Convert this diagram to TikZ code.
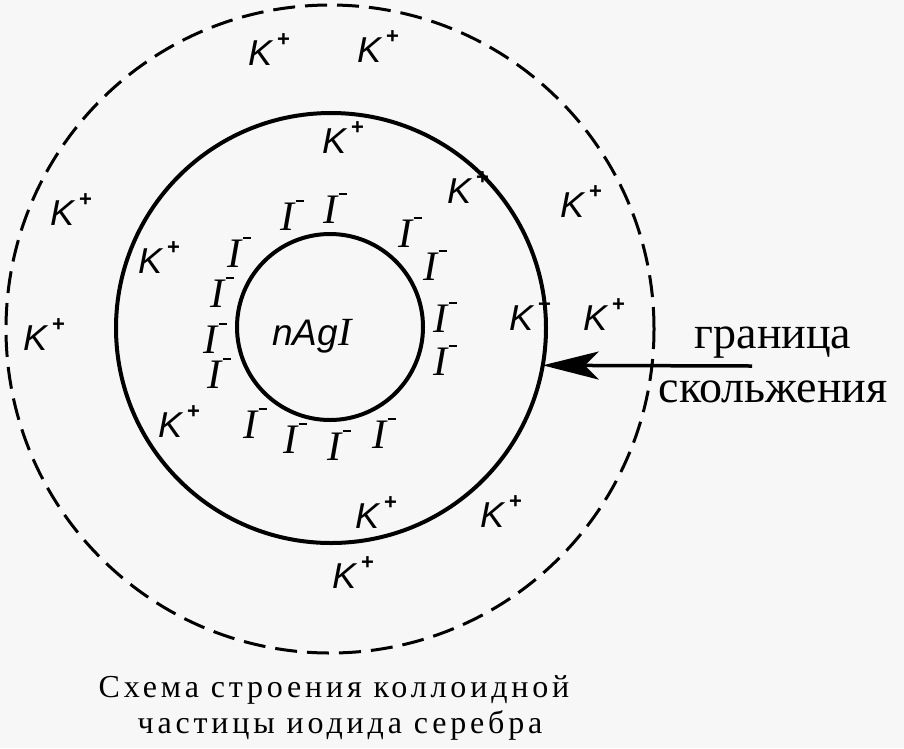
\documentclass[tikz,border=0pt]{standalone}
\usepackage{fontspec}
\setmainfont{Liberation Serif}
\newfontfamily\kfont{Liberation Sans}
\newfontfamily\capfont[LetterSpace=12]{Liberation Serif}
\usetikzlibrary{arrows.meta}
\definecolor{bg}{RGB}{248,247,248}
\newcommand\Kion{{\kfont\itshape\fontsize{36pt}{36pt}\selectfont K}\kern5pt\raisebox{19pt}{\kfont\bfseries\fontsize{22pt}{22pt}\selectfont +}}
\newcommand\Iion{{\fontsize{42pt}{42pt}\selectfont\itshape I}\kern1.5pt\rule[28pt]{8pt}{2.4pt}}
\begin{document}
\begin{tikzpicture}[x=1pt,y=-1pt,
  ring/.style={circle, draw, inner sep=0pt, outer sep=0pt, line width=4pt},
  shear/.style={circle, draw, inner sep=0pt, outer sep=0pt, line width=3pt, dash pattern=on 22pt off 10pt},
  ion/.style={inner sep=0pt, anchor=base west},
  note/.style={inner sep=0pt, anchor=base, font=\fontsize{46pt}{54pt}\selectfont},
  caption/.style={inner sep=0pt, anchor=base, font=\capfont\fontsize{32pt}{36pt}\selectfont},
  ptr/.style={line width=3.5pt, -{Stealth[length=56pt,width=28pt,inset=14pt]}}]
\fill[bg] (0,0) rectangle (904,748);
\useasboundingbox (0,0) rectangle (904,748);
% layers
\node[shear, minimum size=648pt] (diffuse) at (330,329) {};
\node[ring, minimum size=430pt] (slip) at (331,328) {};
\node[ring, minimum size=186pt] (core) at (330,327) {};
\node[ion] (agi) at (272,345) {{\kfont\itshape\fontsize{37pt}{37pt}\selectfont nAg}{\fontsize{40pt}{40pt}\selectfont\itshape I}};
% K+ ions
\node[ion] (k1) at (248,65) {\Kion};
\node[ion] (k2) at (357,62) {\Kion};
\node[ion] (k3) at (322,153) {\Kion};
\node[ion] (k4) at (447,203) {\Kion};
\node[ion] (k5) at (560,217) {\Kion};
\node[ion] (k6) at (50,225) {\Kion};
\node[ion] (k7) at (138,273) {\Kion};
\node[ion] (k8) at (23,350) {\Kion};
\node[ion] (k9) at (509,330) {\Kion};
\node[ion] (k10) at (583,330) {\Kion};
\node[ion] (k11) at (158,437) {\Kion};
\node[ion] (k12) at (355,528) {\Kion};
\node[ion] (k13) at (480,527) {\Kion};
\node[ion] (k14) at (332,588) {\Kion};
% I- ions
\node[ion] (i1) at (280,230) {\Iion};
\node[ion] (i2) at (323,223) {\Iion};
\node[ion] (i3) at (398,247) {\Iion};
\node[ion] (i4) at (423,280) {\Iion};
\node[ion] (i5) at (227,267) {\Iion};
\node[ion] (i6) at (210,307) {\Iion};
\node[ion] (i7) at (203,353) {\Iion};
\node[ion] (i8) at (207,388) {\Iion};
\node[ion] (i9) at (433,332) {\Iion};
\node[ion] (i10) at (433,375) {\Iion};
\node[ion] (i11) at (243,438) {\Iion};
\node[ion] (i12) at (283,453) {\Iion};
\node[ion] (i13) at (327,460) {\Iion};
\node[ion] (i14) at (372,448) {\Iion};
% slipping plane label and pointer
\node[note] (n1) at (773,348) {граница};
\node[note] (n2) at (773,402) {скольжения};
\coordinate (tail) at (752,366);
\draw[ptr] (tail) -- (slip.-10.2);
% caption
\node[caption] (c1) at (334,697) {Схема строения коллоидной};
\node[caption] (c2) at (340,733) {частицы иодида серебра};
\end{tikzpicture}
\end{document}
